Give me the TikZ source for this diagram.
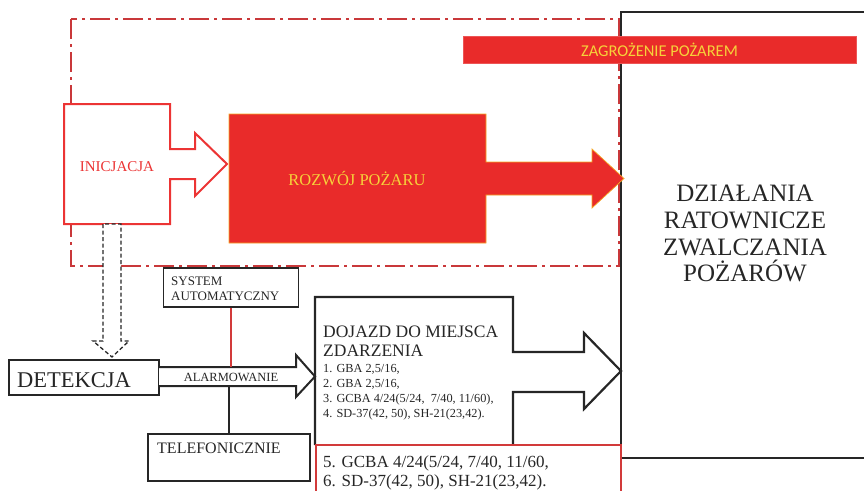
\documentclass[tikz,border=0pt]{standalone}
\usepackage{fontspec}
\setmainfont{Liberation Serif}
\newfontfamily\calibfont{Carlito}
\definecolor{fire}{HTML}{E92B2A}
\definecolor{firetxt}{HTML}{F6D23A}
\definecolor{fireedge}{HTML}{F5A623}
\definecolor{framered}{HTML}{C9383A}
\definecolor{ink}{HTML}{262626}
\definecolor{inicred}{HTML}{EC3434}
\definecolor{boxred}{HTML}{D23A3A}
\tikzset{
  frameline/.style={draw=framered, line width=1.6pt, dash pattern=on 20pt off 5pt on 3pt off 5pt},
  blk/.style={draw=ink, line width=2pt},
  thinbox/.style={draw=ink, line width=1.8pt},
  txt/.style={inner sep=0pt, text=ink, anchor=base west},
  dashedarrow/.style={draw=ink, line width=1.3pt, dash pattern=on 4pt off 2.5pt, fill=white},
}
\begin{document}
\begin{tikzpicture}[x=1pt,y=-1pt]
\useasboundingbox (0,0) rectangle (864,490);

% ---- action box (right) ----
\draw[blk] (864,12) -- (621,12) -- (621,445);
\draw[blk] (621,458) -- (864,458);
\node[align=center, inner sep=0pt, text=ink, font=\fontsize{25}{26.7}\selectfont, anchor=north] (dzial) at (745,185)
  {DZIAŁANIA\\RATOWNICZE\\ZWALCZANIA\\POŻARÓW};

% ---- dash-dot fire zone ----
\draw[frameline] (71,19) rectangle (619,266);

% ---- threat bar ----
\node[fill=fire, draw=fire!80!white, line width=0.6pt, minimum width=393pt, minimum height=27pt, inner sep=0pt,
      text=firetxt, font=\fontsize{16.5}{16.5}\calibfont] (zag) at (659.5,49.5) {ZAGROŻENIE POŻAREM};

% ---- initiation ----
\draw[draw=inicred, line width=2pt, fill=white]
  (64,104) -- (170,104) -- (170,149) -- (195,149) -- (195,133) -- (227,164) -- (195,196) -- (195,179)
  -- (170,179) -- (170,224) -- (64,224) -- cycle;
\node[txt, text=inicred, font=\fontsize{15}{15}\selectfont, anchor=base] (inic) at (117,171) {INICJACJA};

% ---- fire development ----
\draw[fill=fire, draw=fireedge, line width=0.7pt]
  (229,114) -- (486,114) -- (486,162) -- (592,162) -- (592,149) -- (624,178.5) -- (592,208) -- (592,195)
  -- (486,195) -- (486,243) -- (229,243) -- cycle;
\node[txt, text=firetxt, font=\fontsize{16.5}{16.5}\selectfont, anchor=base] (rozw) at (357,185) {ROZWÓJ POŻARU};

% ---- detection ----
\node[thinbox, minimum width=150pt, minimum height=35pt, inner sep=0pt] (det) at (84,377.5) {};
\node[txt, font=\fontsize{22.5}{22.5}\selectfont] (dettxt) at (17,387) {DETEKCJA};

% dashed hollow arrow from initiation to detection
\coordinate (dtop) at (112,224);
\coordinate (dtip) at (112,357);
\draw[dashedarrow]
  ([xshift=-9pt]dtop) -- ([xshift=-9pt,yshift=16pt]dtip) -- ([xshift=-19pt,yshift=16pt]dtip) -- (dtip)
  -- ([xshift=17pt,yshift=16pt]dtip) -- ([xshift=9pt,yshift=16pt]dtip) -- ([xshift=9pt]dtop) -- cycle;

% ---- alarm arrow ----
\draw[blk, fill=white]
  (159,367) -- (296,367) -- (296,355) -- (315,376.5) -- (296,397) -- (296,386) -- (159,386);
\node[txt, font=\fontsize{12.5}{12.5}\selectfont, anchor=base] (alarm) at (231,381) {ALARMOWANIE};
\coordinate (alarmtop) at (231,367);
\coordinate (alarmbot) at (229,386);

% ---- automatic system ----
\node[thinbox, minimum width=135pt, minimum height=39pt, inner sep=0pt] (sys) at (231,287.5) {};
\node[txt, align=left, font=\fontsize{13}{15}\selectfont] (systxt) at (171,300) {SYSTEM\\AUTOMATYCZNY};
\draw[draw=boxred, line width=1.5pt] (sys.south) -- (alarmtop);

% ---- telephone ----
\node[thinbox, minimum width=162pt, minimum height=47pt, inner sep=0pt] (tel) at (229,457.5) {};
\node[txt, font=\fontsize{16}{16}\selectfont] (teltxt) at (157,453) {TELEFONICZNIE};
\draw[draw=ink, line width=1.8pt] (alarmbot) -- (tel.north);

% ---- travel to the scene ----
\draw[blk, line width=2.2pt]
  (315,445) -- (315,297) -- (513,297) -- (513,352) -- (584,352) -- (584,333) -- (621,371) -- (584,409)
  -- (584,392) -- (513,392) -- (513,445);
\node[txt, font=\fontsize{17.5}{17.5}\selectfont] (doj1) at (323,337) {DOJAZD DO MIEJSCA};
\node[txt, font=\fontsize{17.5}{17.5}\selectfont] (doj2) at (323,356) {ZDARZENIA};
\node[txt, font=\fontsize{12.3}{12.3}\selectfont] (l1) at (323,372) {1. GBA 2,5/16,};
\node[txt, font=\fontsize{12.3}{12.3}\selectfont] (l2) at (323,387) {2. GBA 2,5/16,};
\node[txt, font=\fontsize{12.3}{12.3}\selectfont] (l3) at (323,402) {3. GCBA 4/24(5/24,\ \ 7/40, 11/60),};
\node[txt, font=\fontsize{12.3}{12.3}\selectfont] (l4) at (323,417) {4. SD-37(42, 50), SH-21(23,42).};

% red box with further vehicles
\draw[draw=boxred, line width=1.5pt] (316,492) -- (316,445) -- (621,445) -- (621,492);
\node[txt, font=\fontsize{17}{17}\selectfont] (l5) at (323,467) {5. GCBA 4/24(5/24, 7/40, 11/60,};
\node[txt, font=\fontsize{17}{17}\selectfont] (l6) at (323,486) {6. SD-37(42, 50), SH-21(23,42).};
\end{tikzpicture}
\end{document}
